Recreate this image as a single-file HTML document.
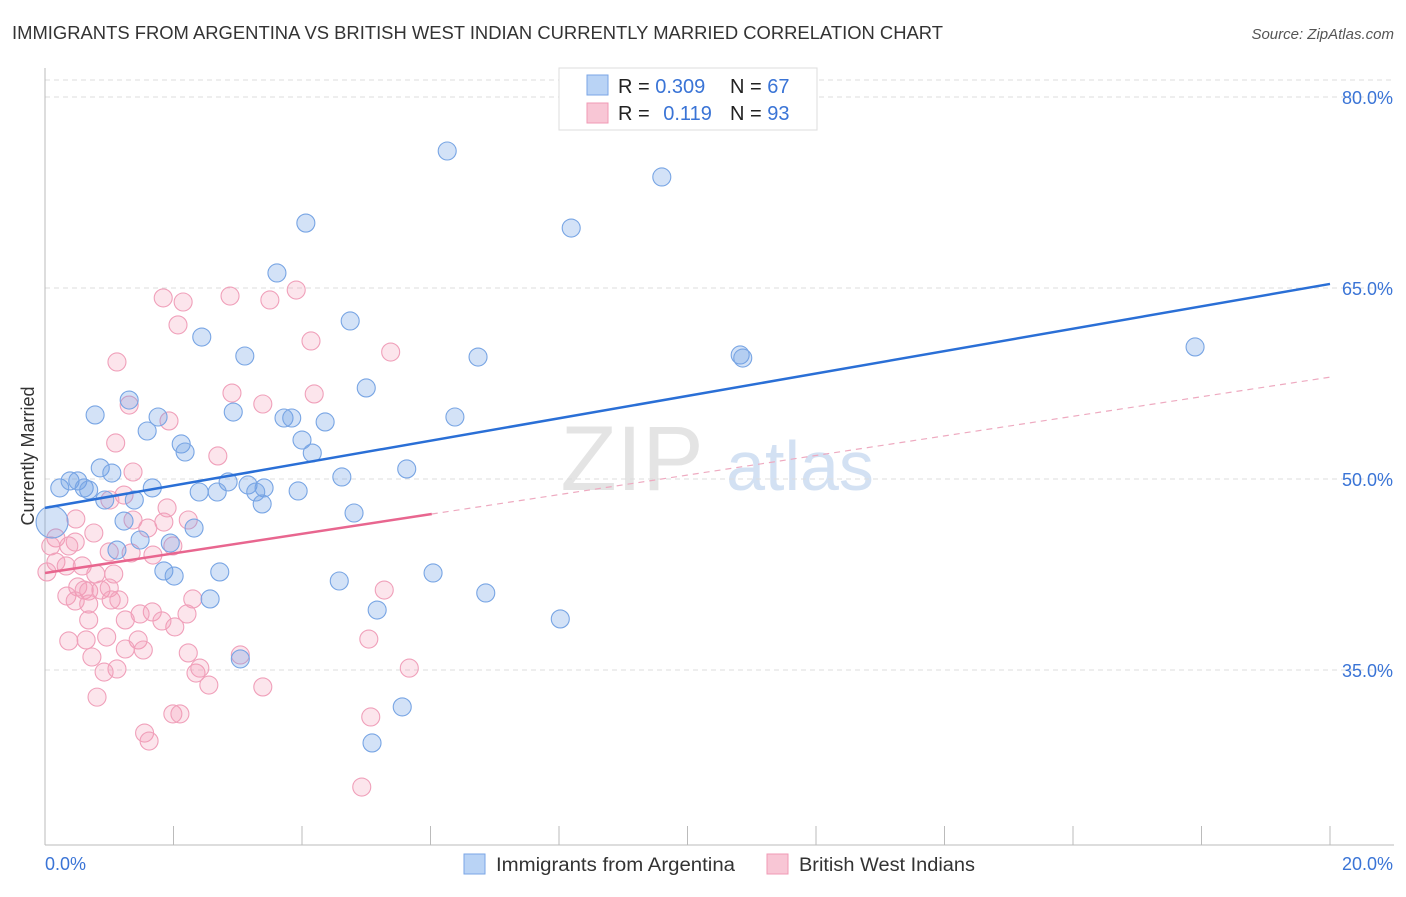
<!DOCTYPE html>
<html><head><meta charset="utf-8"><style>
body{margin:0;background:#fff;font-family:"Liberation Sans",sans-serif;}
svg text{font-family:"Liberation Sans",sans-serif;}
</style></head><body>
<svg id="chart" width="1406" height="892" xmlns="http://www.w3.org/2000/svg">
<text x="12" y="39" font-size="18" fill="#333" textLength="931" lengthAdjust="spacingAndGlyphs">IMMIGRANTS FROM ARGENTINA VS BRITISH WEST INDIAN CURRENTLY MARRIED CORRELATION CHART</text>
<text x="1394" y="39" font-size="15" fill="#555" font-style="italic" text-anchor="end">Source: ZipAtlas.com</text>
<text x="34" y="456" font-size="18" fill="#333" text-anchor="middle" transform="rotate(-90 34 456)">Currently Married</text>
<g>
<text x="632" y="490" font-size="92" fill="#e4e4e4" font-family="Liberation Serif" text-anchor="middle">ZIP</text>
<text x="800" y="490" font-size="70" fill="#d3e1f3" text-anchor="middle">atlas</text>
</g>
<g id="grid"></g>
<g id="axes"></g>
<g id="pts"></g>
<g id="lines"></g>
<g>
<rect x="559" y="68" width="258" height="62" fill="#fff" stroke="#ddd"/>
<rect x="587" y="75" width="21" height="20" fill="#b9d3f5" stroke="#7aa6e6"/>
<rect x="587" y="103" width="21" height="20" fill="#f8c6d5" stroke="#f09ab5"/>
<text x="618" y="93" font-size="20" fill="#222">R = <tspan fill="#3a74d6">0.309</tspan></text>
<text x="730" y="93" font-size="20" fill="#222">N = <tspan fill="#3a74d6">67</tspan></text>
<text x="618" y="120" font-size="20" fill="#222">R = <tspan fill="#3a74d6" dx="8">0.119</tspan></text>
<text x="730" y="120" font-size="20" fill="#222">N = <tspan fill="#3a74d6">93</tspan></text>
</g>
<g>
<rect x="464" y="854" width="21" height="20" fill="#b9d3f5" stroke="#7aa6e6"/>
<text x="496" y="871" font-size="19" fill="#333" textLength="239" lengthAdjust="spacingAndGlyphs">Immigrants from Argentina</text>
<rect x="767" y="854" width="21" height="20" fill="#f8c6d5" stroke="#f09ab5"/>
<text x="799" y="871" font-size="19" fill="#333" textLength="176" lengthAdjust="spacingAndGlyphs">British West Indians</text>
</g>
</svg>
<script>
const yTicks=[35,50,65,80];
const xTickLabels=["0.0%","20.0%"];
const blueX=[6.26,9.60,4.06,8.19,3.61,4.75,2.44,3.11,6.74,10.82,10.86,17.90,5.00,1.31,0.78,1.76,2.93,3.72,3.84,4.36,6.38,1.59,4.00,2.12,2.18,4.16,0.86,1.04,5.63,4.62,0.23,0.39,0.51,0.61,0.68,1.67,2.85,3.16,3.41,2.40,2.68,3.28,3.94,0.93,1.39,3.38,4.81,1.23,2.32,0.11,1.48,1.95,1.12,1.85,2.01,2.72,4.58,6.04,2.57,6.86,5.17,8.02,3.04,5.56,5.09];
const blueY=[75.76,73.72,70.10,69.71,66.18,62.41,61.15,59.66,59.58,59.74,59.50,60.37,57.15,56.20,55.03,54.87,55.26,54.79,54.79,54.48,54.87,53.77,53.06,52.75,52.12,52.04,50.87,50.47,50.79,50.16,49.30,49.85,49.85,49.30,49.14,49.30,49.77,49.53,49.30,48.98,48.98,48.98,49.06,48.35,48.35,48.04,47.33,46.70,46.15,46.62,45.21,44.97,44.42,42.78,42.38,42.70,41.99,42.62,40.58,41.05,39.71,39.01,35.87,32.10,29.27];
const pinkX=[1.84,2.15,2.88,3.50,3.91,2.07,4.14,5.38,1.12,2.91,4.19,3.39,1.31,1.93,1.10,2.69,1.37,1.23,1.01,1.90,0.48,1.37,2.23,1.85,1.60,0.76,0.17,0.47,0.09,0.37,1.34,1.99,1.00,0.17,0.33,0.03,1.68,0.58,0.79,1.07,0.34,0.51,0.61,0.68,0.87,0.47,0.68,1.00,1.03,1.15,1.67,2.21,2.30,0.68,1.25,5.28,0.37,0.64,0.96,1.45,2.02,5.04,0.73,1.25,1.53,2.23,3.04,1.12,0.92,2.35,2.41,2.55,3.39,5.67,0.81,1.55,1.62,1.99,2.10,5.07,4.93,1.48,1.82];
const pinkY=[64.22,63.90,64.37,64.06,64.84,62.10,60.84,59.97,59.19,56.75,56.68,55.89,55.81,54.56,52.83,51.81,50.55,48.74,48.35,47.73,46.86,46.78,46.78,46.62,46.15,45.76,45.37,45.05,44.74,44.74,44.19,44.74,44.27,43.48,43.17,42.70,44.03,43.17,42.54,42.54,40.81,41.52,41.28,41.20,41.28,40.42,40.18,41.44,40.50,40.50,39.56,39.40,40.58,38.93,38.93,41.28,37.28,37.36,37.59,37.36,38.38,37.43,36.02,36.65,36.57,36.34,36.18,35.08,34.84,34.76,35.15,33.82,33.67,35.15,32.87,30.05,29.42,31.55,31.55,31.31,25.81,39.40,38.85];
const blueTrend=[47.73,65.32];
const pinkTrend=[42.62,58.0];
const pinkSolidEnd=6.02;
const NS="http://www.w3.org/2000/svg";
const X=v=>45+v/20*1285;
const Y=v=>97+(80-v)/15*191;
function mk(tag,attrs,parent){const e=document.createElementNS(NS,tag);for(const k in attrs)e.setAttribute(k,attrs[k]);parent.appendChild(e);return e;}
const grid=document.getElementById('grid'),axes=document.getElementById('axes'),pts=document.getElementById('pts'),lines=document.getElementById('lines');
let g0=mk('line',{x1:45,x2:1394,y1:80,y2:80,stroke:'#ddd','stroke-dasharray':'5,4'},grid);


yTicks.forEach(t=>{
 const l=mk('line',{x1:45,x2:1394,y1:Y(t),y2:Y(t),stroke:'#ddd','stroke-dasharray':'5,4'},grid);
 
 
 const tx=mk('text',{x:1393,y:Y(t)+7,'font-size':18,fill:'#3a74d6','text-anchor':'end'},axes);
 tx.textContent=t.toFixed(1)+'%';
 
 
});
let ax=mk('line',{x1:45,x2:45,y1:68,y2:845,stroke:'#bbb'},axes);


let bx=mk('line',{x1:45,x2:1394,y1:845,y2:845,stroke:'#bbb'},axes);


for(let i=1;i<=10;i++){
 const tk=mk('line',{x1:X(i*2),x2:X(i*2),y1:826,y2:845,stroke:'#bbb'},axes);
 
 
}
const xl0=mk('text',{x:45,y:870,'font-size':18,fill:'#3a74d6'},axes);xl0.textContent=xTickLabels[0];


const xl1=mk('text',{x:1393,y:870,'font-size':18,fill:'#3a74d6','text-anchor':'end'},axes);xl1.textContent=xTickLabels[1];


pinkX.forEach((v,i)=>{
 const c=mk('circle',{cx:X(v),cy:Y(pinkY[i]),r:9,fill:'rgba(244,150,180,0.25)',stroke:'#f0a0ba','stroke-width':1.1},pts);
 
 
});
blueX.forEach((v,i)=>{
 const c=mk('circle',{cx:X(v),cy:Y(blueY[i]),r:i==49?16:9,fill:'rgba(110,160,230,0.3)',stroke:'#78a5e4','stroke-width':1.1},pts);
 
 
});
const pAt=x=>pinkTrend[0]+(pinkTrend[1]-pinkTrend[0])*x/20;
let pd=mk('line',{x1:X(pinkSolidEnd),y1:Y(pAt(pinkSolidEnd)),x2:X(20),y2:Y(pinkTrend[1]),stroke:'#eeaac0','stroke-width':1.2,'stroke-dasharray':'6,5'},lines);


let ps=mk('line',{x1:X(0),y1:Y(pinkTrend[0]),x2:X(pinkSolidEnd),y2:Y(pAt(pinkSolidEnd)),stroke:'#e8668f','stroke-width':2.5},lines);


let bl=mk('line',{x1:X(0),y1:Y(blueTrend[0]),x2:X(20),y2:Y(blueTrend[1]),stroke:'#2a6fd6','stroke-width':2.5},lines);


</script>
</body></html>
